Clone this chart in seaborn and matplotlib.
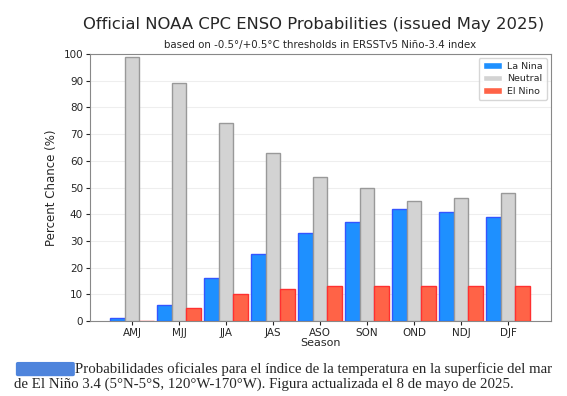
import numpy as np
import pandas as pd
import seaborn as sns
import matplotlib.pyplot as plt
from matplotlib.patches import FancyBboxPatch

seasons = ['AMJ', 'MJJ', 'JJA', 'JAS', 'ASO', 'SON', 'OND', 'NDJ', 'DJF']
la_nina = [1, 6, 16, 25, 33, 37, 42, 41, 39]
neutral = [99, 89, 74, 63, 54, 50, 45, 46, 48]
el_nino = [0, 5, 10, 12, 13, 13, 13, 13, 13]

df = pd.DataFrame({'Season': seasons * 3,
                   'Chance': la_nina + neutral + el_nino,
                   'Category': ['La Nina'] * 9 + ['Neutral'] * 9 + ['El Nino'] * 9})

sns.set_style('ticks')
plt.rcParams['font.family'] = ['DejaVu Sans']

fig = plt.figure(figsize=(5.67, 3.96), dpi=100)
ax = fig.add_axes([0.1587, 0.1894, 0.8131, 0.6742])

pal = {'La Nina': '#1E90FF', 'Neutral': '#D3D3D3', 'El Nino': '#FF6347'}
edges = {'La Nina': '#3355ff', 'Neutral': '#999999', 'El Nino': '#ff3030'}
sns.barplot(data=df, x='Season', y='Chance', hue='Category', palette=pal,
            width=0.93, ax=ax, saturation=1, zorder=3)
for cont, cat in zip(ax.containers, ['La Nina', 'Neutral', 'El Nino']):
    for b in cont:
        b.set_edgecolor(edges[cat])
        b.set_linewidth(1.0)

ax.set_xlim(-0.894, 8.915)
ax.set_ylim(0, 100)
ax.set_yticks(range(0, 101, 10))
ax.yaxis.grid(True, color='#eeeeee', linewidth=0.8, zorder=0)
ax.tick_params(labelsize=7.5, length=3, pad=2)
for s in ax.spines.values():
    s.set_color('#888888')
ax.set_xlabel('Season', fontsize=8, labelpad=0)
ax.set_ylabel('Percent Chance (%)', fontsize=8.5)
ax.set_title('based on -0.5°/+0.5°C thresholds in ERSSTv5 Niño-3.4 index', fontsize=7.4, pad=4)
fig.text(0.554, 0.937, 'Official NOAA CPC ENSO Probabilities (issued May 2025)',
         ha='center', va='center', fontsize=11.8)

leg = ax.legend(loc='upper right', fontsize=6.8, title=None, frameon=True,
                handlelength=2.0, borderpad=0.45, labelspacing=0.35,
                handletextpad=0.6, borderaxespad=0.4)
leg.get_frame().set_edgecolor('#cccccc')

fig.add_artist(FancyBboxPatch((0.032, 0.054), 0.096, 0.028, boxstyle='round,pad=0.004',
                              transform=fig.transFigure, facecolor='#2f6fd6',
                              edgecolor='none', alpha=0.85))
fig.text(0.132, 0.067, 'Probabilidades oficiales para el índice de la temperatura en la superficie del mar',
         fontsize=10.75, family='Liberation Serif', va='center', ha='left')
fig.text(0.025, 0.029, 'de El Niño 3.4 (5°N-5°S, 120°W-170°W). Figura actualizada el 8 de mayo de 2025.',
         fontsize=10.75, family='Liberation Serif', va='center', ha='left')

fig.savefig('out.png', dpi=100)
